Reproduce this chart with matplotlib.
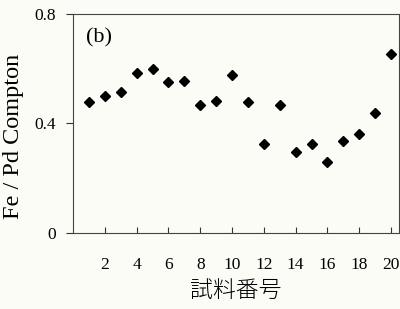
import matplotlib
matplotlib.use("Agg")
import matplotlib.pyplot as plt

sample_no = list(range(1, 21))
fe_pd_ratio = [0.478, 0.499, 0.514, 0.583, 0.599, 0.553, 0.555, 0.466, 0.481, 0.576,
               0.480, 0.326, 0.468, 0.295, 0.324, 0.260, 0.335, 0.361, 0.437, 0.655]
x_ticks = [2, 4, 6, 8, 10, 12, 14, 16, 18, 20]
y_ticks = [0, 0.4, 0.8]
y_tick_labels = ["0", "0.4", "0.8"]

bg = "#fcfcf6"
fig = plt.figure(figsize=(4.0, 3.09), dpi=100, facecolor=bg)
ax = fig.add_axes([0.1825, 0.246, 0.815, 0.709])
ax.set_facecolor(bg)

ax.plot(sample_no, fe_pd_ratio, linestyle="none", marker="D", markersize=5.6,
        color="black")

ax.set_xlim(0, 20.5)
ax.set_ylim(0, 0.8)
ax.set_xticks(x_ticks)
ax.set_yticks(y_ticks)
ax.set_yticklabels(y_tick_labels)

serif = ["Liberation Serif", "DejaVu Serif"]
for lab in ax.get_xticklabels() + ax.get_yticklabels():
    lab.set_fontfamily(serif)
    lab.set_fontsize(12.5)

ax.tick_params(axis="x", direction="in", length=4, width=0.8, pad=17, colors="#333333",
               labelcolor="black")
ax.tick_params(axis="y", direction="out", length=5, width=0.8, pad=7, colors="#333333",
               labelcolor="black")

for sp in ax.spines.values():
    sp.set_linewidth(0.8)
    sp.set_color("#444444")

ax.set_ylabel("Fe / Pd Compton", fontfamily=serif, fontsize=17.5)
ax.yaxis.set_label_coords(-0.15, 0.443)
ax.set_xlabel("試料番号", fontfamily=["Noto Sans CJK JP", "DejaVu Sans"],
              fontsize=16.5, fontweight="light", labelpad=4)

ax.text(0.04, 0.89, "(b)", transform=ax.transAxes, fontfamily=serif, fontsize=16,
        ha="left", va="center")

fig.savefig("out.png", dpi=100, facecolor=bg)
